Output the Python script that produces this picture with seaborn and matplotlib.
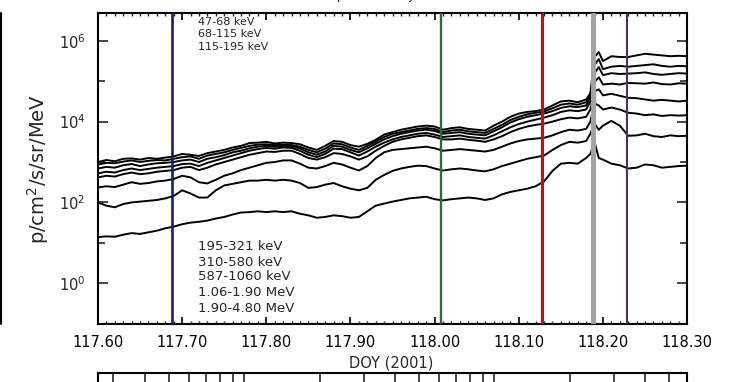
import numpy as np
import pandas as pd
import matplotlib
matplotlib.use("Agg")
import matplotlib.pyplot as plt
import seaborn as sns
from matplotlib.lines import Line2D

# ---------------- data ----------------
times = (list(np.round(np.arange(117.60, 118.185, 0.01), 3))
         + [118.185, 118.19, 118.195]
         + list(np.round(np.arange(118.20, 118.305, 0.01), 3)))

channels = ["47-68 keV", "68-115 keV", "115-195 keV", "195-321 keV",
            "310-580 keV", "587-1060 keV", "1.06-1.90 MeV", "1.90-4.80 MeV"]

# log10 of flux (p/cm2/s/sr/MeV)
ch1 = [3.00, 3.05, 3.02, 3.08, 3.09, 3.06, 3.10, 3.08, 3.11, 3.14,
       3.20, 3.18, 3.15, 3.22, 3.26, 3.30, 3.36, 3.40, 3.47, 3.48,
       3.50, 3.46, 3.48, 3.47, 3.44, 3.36, 3.30, 3.40, 3.52, 3.50,
       3.42, 3.38, 3.45, 3.55, 3.68, 3.74, 3.80, 3.84, 3.88, 3.90,
       3.88, 3.80, 3.84, 3.86, 3.82, 3.80, 3.78, 3.90, 4.00, 4.12,
       4.20, 4.24, 4.26, 4.30, 4.40, 4.50, 4.52, 4.48, 4.55,
       4.70, 5.60, 5.72, 5.50,
       5.62, 5.60, 5.60, 5.64, 5.68, 5.66, 5.64, 5.62, 5.63, 5.62]
ch2 = [2.94, 2.98, 2.97, 3.01, 3.04, 3.00, 3.03, 3.05, 3.04, 3.08,
       3.12, 3.14, 3.08, 3.16, 3.20, 3.24, 3.30, 3.35, 3.40, 3.43,
       3.44, 3.42, 3.43, 3.42, 3.38, 3.30, 3.24, 3.33, 3.46, 3.44,
       3.36, 3.30, 3.40, 3.50, 3.62, 3.70, 3.74, 3.78, 3.82, 3.84,
       3.82, 3.74, 3.78, 3.80, 3.76, 3.74, 3.72, 3.82, 3.92, 4.04,
       4.12, 4.18, 4.22, 4.25, 4.33, 4.42, 4.45, 4.42, 4.48,
       4.65, 5.40, 5.55, 5.30,
       5.36, 5.38, 5.36, 5.38, 5.40, 5.42, 5.38, 5.36, 5.38, 5.37]
ch3 = [2.84, 2.88, 2.86, 2.92, 2.95, 2.90, 2.94, 2.97, 2.98, 3.00,
       3.04, 3.06, 3.00, 3.08, 3.12, 3.17, 3.24, 3.28, 3.34, 3.38,
       3.40, 3.38, 3.40, 3.39, 3.34, 3.24, 3.18, 3.26, 3.40, 3.38,
       3.30, 3.24, 3.34, 3.45, 3.56, 3.64, 3.70, 3.74, 3.78, 3.80,
       3.77, 3.70, 3.72, 3.74, 3.70, 3.68, 3.66, 3.76, 3.86, 3.98,
       4.06, 4.12, 4.16, 4.20, 4.26, 4.34, 4.38, 4.36, 4.40,
       4.60, 5.20, 5.35, 5.15,
       5.20, 5.18, 5.19, 5.20, 5.22, 5.18, 5.16, 5.18, 5.20, 5.19]
ch4 = [2.72, 2.76, 2.74, 2.80, 2.84, 2.80, 2.83, 2.86, 2.88, 2.90,
       2.95, 2.96, 2.90, 2.98, 3.04, 3.10, 3.16, 3.22, 3.28, 3.32,
       3.35, 3.33, 3.36, 3.35, 3.28, 3.18, 3.12, 3.20, 3.33, 3.32,
       3.24, 3.16, 3.26, 3.38, 3.48, 3.56, 3.62, 3.66, 3.70, 3.72,
       3.68, 3.62, 3.64, 3.66, 3.62, 3.60, 3.58, 3.66, 3.76, 3.86,
       3.94, 4.00, 4.05, 4.10, 4.16, 4.24, 4.28, 4.26, 4.30,
       4.50, 4.98, 5.10, 4.92,
       4.94, 4.92, 4.96, 4.95, 4.94, 4.97, 4.93, 4.92, 4.95, 4.94]
ch5 = [2.62, 2.66, 2.64, 2.70, 2.74, 2.70, 2.72, 2.76, 2.78, 2.80,
       2.86, 2.88, 2.80, 2.86, 2.94, 3.00, 3.06, 3.12, 3.18, 3.22,
       3.26, 3.25, 3.28, 3.28, 3.20, 3.10, 3.06, 3.12, 3.22, 3.20,
       3.14, 3.06, 3.14, 3.28, 3.40, 3.50, 3.56, 3.60, 3.64, 3.66,
       3.62, 3.56, 3.56, 3.58, 3.55, 3.53, 3.50, 3.56, 3.64, 3.74,
       3.82, 3.88, 3.92, 3.95, 4.00, 4.06, 4.10, 4.08, 4.12,
       4.30, 4.75, 4.80, 4.65,
       4.69, 4.64, 4.59, 4.58, 4.55, 4.52, 4.54, 4.52, 4.50, 4.52]
ch6 = [2.37, 2.40, 2.38, 2.44, 2.50, 2.46, 2.48, 2.52, 2.54, 2.58,
       2.66, 2.62, 2.50, 2.47, 2.56, 2.66, 2.72, 2.80, 2.86, 2.92,
       2.98, 3.00, 3.04, 3.04, 2.96, 2.86, 2.84, 2.90, 2.98, 2.94,
       2.86, 2.79, 2.90, 3.10, 3.24, 3.30, 3.32, 3.34, 3.36, 3.38,
       3.34, 3.28, 3.30, 3.32, 3.30, 3.28, 3.26, 3.30, 3.38, 3.46,
       3.52, 3.56, 3.58, 3.60, 3.66, 3.74, 3.80, 3.78, 3.82,
       4.00, 4.45, 4.40, 4.30,
       4.35, 4.30, 4.22, 4.20, 4.16, 4.18, 4.14, 4.16, 4.15, 4.16]
ch7 = [2.00, 1.92, 1.88, 1.96, 2.00, 2.02, 2.04, 2.06, 2.10, 2.16,
       2.30, 2.22, 2.12, 2.12, 2.30, 2.42, 2.46, 2.50, 2.54, 2.54,
       2.56, 2.54, 2.56, 2.54, 2.48, 2.36, 2.38, 2.44, 2.48, 2.40,
       2.34, 2.30, 2.36, 2.56, 2.68, 2.78, 2.84, 2.88, 2.91, 2.90,
       2.84, 2.79, 2.82, 2.84, 2.82, 2.79, 2.77, 2.82, 2.90, 2.96,
       3.02, 3.08, 3.12, 3.16, 3.30, 3.42, 3.50, 3.48, 3.52,
       3.70, 3.95, 3.80, 3.90,
       4.02, 3.90, 3.65, 3.66, 3.70, 3.64, 3.62, 3.66, 3.64, 3.65]
ch8 = [1.14, 1.16, 1.15, 1.20, 1.24, 1.22, 1.26, 1.30, 1.36, 1.40,
       1.46, 1.50, 1.52, 1.55, 1.60, 1.64, 1.70, 1.75, 1.76, 1.78,
       1.76, 1.78, 1.76, 1.78, 1.72, 1.68, 1.62, 1.64, 1.68, 1.66,
       1.62, 1.64, 1.78, 1.92, 1.97, 2.02, 2.06, 2.10, 2.12, 2.14,
       2.08, 2.05, 2.08, 2.10, 2.12, 2.10, 2.06, 2.10, 2.20, 2.26,
       2.30, 2.34, 2.40, 2.52, 2.78, 2.96, 2.98, 2.96, 3.10,
       3.20, 3.50, 3.10, 3.06,
       2.96, 2.92, 2.84, 2.86, 2.94, 2.92, 2.86, 2.88, 2.90, 2.91]

series = [ch1, ch2, ch3, ch4, ch5, ch6, ch7, ch8]

event_doy = [117.688, 118.008, 118.128, 118.188, 118.229]
event_colors = ["#1d1a66", "#2f6a33", "#b0181c", "#a3a3a3", "#4e2f63"]
event_widths = [1.9, 1.7, 2.2, 3.6, 1.5]

xticks = [117.60, 117.70, 117.80, 117.90, 118.00, 118.10, 118.20, 118.30]
xticklabels = ["117.60", "117.70", "117.80", "117.90", "118.00", "118.10", "118.20", "118.30"]
yticks = [1e0, 1e2, 1e4, 1e6]
yticklabels = ["10$^0$", "10$^2$", "10$^4$", "10$^6$"]

rows = []
for name, vals in zip(channels, series):
    for t, v in zip(times, vals):
        rows.append({"DOY": t, "flux": 10 ** v, "channel": name})
df = pd.DataFrame(rows)

# ---------------- plot ----------------
sns.set_theme(style="white")
plt.rcParams["font.family"] = ["DejaVu Sans"]

fig = plt.figure(figsize=(7.31, 3.82), dpi=100)
ax = fig.add_axes([0.134, 0.152, 0.806, 0.814])

sns.lineplot(data=df, x="DOY", y="flux", hue="channel", hue_order=channels,
             palette=["black"] * len(channels), estimator=None, legend=False,
             linewidth=1.4, ax=ax)

for x, c, w in zip(event_doy, event_colors, event_widths):
    ax.axvline(x, color=c, lw=w, zorder=5)

ax.set_yscale("log")
ax.set_xlim(117.60, 118.30)
ax.set_ylim(0.098, 4.9e6)

ax.set_xticks(xticks)
ax.set_xticklabels(xticklabels)
ax.set_xticks(np.round(np.arange(117.60, 118.305, 0.01), 3), minor=True)
ax.set_yticks(yticks)
ax.set_yticklabels(yticklabels)
ax.set_yticks([1e-1, 1e1, 1e3, 1e5], minor=True)
ax.yaxis.set_minor_formatter(matplotlib.ticker.NullFormatter())

ax.tick_params(axis="x", which="major", direction="in", length=5, width=1.2,
               top=True, bottom=True, labelsize=10.5, pad=8, colors="black")
ax.tick_params(axis="x", which="minor", direction="in", length=2.5, width=1.0,
               top=True, bottom=True)
ax.tick_params(axis="y", which="major", direction="in", length=7, width=1.2,
               left=True, right=True, labelsize=10.5, pad=9)
ax.tick_params(axis="y", which="minor", direction="in", length=5, width=1.2,
               left=True, right=True)
for sp in ax.spines.values():
    sp.set_linewidth(1.5)
    sp.set_color("black")

ax.set_xlabel("DOY (2001)", fontsize=10.5)
ax.xaxis.set_label_coords(0.497, -0.103)
ax.set_ylabel("p/cm$^2$/s/sr/MeV", fontsize=14)
ax.yaxis.set_label_coords(-0.080, 0.5)

top_lbl = channels[:3]
bot_lbl = channels[3:]
top_y = [0.972, 0.932, 0.892]
bot_y = [0.248, 0.199, 0.151, 0.100, 0.051]
for s, y in zip(top_lbl, top_y):
    ax.text(0.170, y, s, transform=ax.transAxes, fontsize=8, va="center", ha="left")
for s, y in zip(bot_lbl, bot_y):
    ax.text(0.170, y, s, transform=ax.transAxes, fontsize=9.5, va="center", ha="left")

# partially visible title
fig.text(0.52, 1.012, "EPAM protons, day (2001)", ha="center", va="center", fontsize=9)

# neighbouring panel edges (cut off)
fig.add_artist(Line2D([0.002, 0.002], [0.152, 0.966], color="black", lw=1.5))
ax2 = fig.add_axes([0.134, -0.3, 0.806, 0.3 + 1 - 373 / 382])
ax2.set_xscale("log")
ax2.set_xlim(0.26, 59)
ax2.set_yticks([])
ax2.tick_params(axis="x", which="both", direction="in", length=12, width=1.2,
                top=True, bottom=False, labelbottom=False)
for sp in ax2.spines.values():
    sp.set_linewidth(1.5)
    sp.set_color("black")

fig.savefig("out.png", dpi=100)
